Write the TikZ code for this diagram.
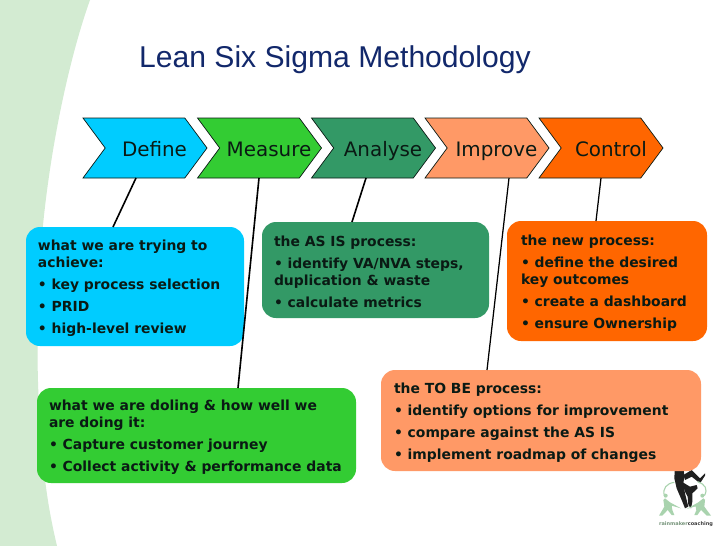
\documentclass[tikz,border=0pt]{standalone}
\usepackage{fontspec}
\setmainfont{DejaVu Sans}
\newfontfamily\titlefont{Liberation Sans}
\usetikzlibrary{shapes.symbols,calc}
\definecolor{bgband}{HTML}{D3EBD2}
\definecolor{cdefine}{HTML}{00CCFF}
\definecolor{cmeasure}{HTML}{33CC33}
\definecolor{canalyse}{HTML}{339966}
\definecolor{cimprove}{HTML}{FF9966}
\definecolor{ccontrol}{HTML}{FF6600}
\definecolor{titleblue}{HTML}{12286B}
\definecolor{inkdark}{HTML}{0A1A14}
\definecolor{logogreen}{HTML}{A9D3AE}
\tikzset{
  x=1pt,y=-1pt,
  chev/.style={signal,signal from=west,signal to=east,signal pointer angle=107,
    draw=inkdark,line width=0.7pt,minimum width=124pt,minimum height=60pt,inner sep=0pt,outer sep=0pt},
  chevlabel/.style={font=\fontsize{19.9}{22}\selectfont,text=inkdark,inner sep=0pt,anchor=base},
  infobox/.style={rounded corners=14pt,anchor=north west,inner sep=0pt,outer sep=0pt,
    font=\fontsize{13.9}{17}\selectfont\bfseries,text=inkdark,align=left},
  link/.style={draw=black,line width=1.6pt},
  slimlink/.style={draw=black,line width=1.25pt},
}
\newcommand{\boxbody}[2]{\parbox{#1}{\raggedright\vspace*{4pt}#2}}
\begin{document}
\begin{tikzpicture}
\useasboundingbox (0,0) rectangle (728,546);
\fill[white] (0,0) rectangle (728,546);
\fill[bgband] (0,0) -- (90,0) .. controls (72,50) and (52,135) .. (43,225)
  .. controls (36,300) and (35,390) .. (44,470) .. controls (47,500) and (52,525) .. (57,546) -- (0,546) -- cycle;

% logo
\begin{scope}[shift={(655,465)},x=0.3333pt,y=-0.3333pt]
\fill[black!88] (60,0) -- (85,0) -- (88,35) -- (85,55) -- (90,85) -- (100,125) -- (90,130) -- (80,105) -- (65,70) -- (58,40) -- cycle;
\fill[black!88] (80,50) -- (105,65) -- (125,60) -- (128,70) -- (112,85) -- (112,110) -- (108,130) -- (100,120) -- (98,95) -- (90,80) -- cycle;
\fill[black!88] (85,30) -- (110,15) -- (135,40) -- (150,25) -- (150,32) -- (135,55) -- (110,35) -- (90,45) -- cycle;
\fill[logogreen] (32,92) circle (6);
\fill[logogreen] (30,100) -- (45,112) -- (78,130) -- (50,122) -- (52,135) -- (58,150) -- (50,150) -- (38,135) -- (22,152) -- (12,152) -- (28,125) -- (25,105) -- cycle;
\fill[logogreen] (142,92) circle (6);
\fill[logogreen] (145,100) -- (130,112) -- (95,132) -- (122,124) -- (124,136) -- (118,150) -- (127,150) -- (138,135) -- (155,152) -- (168,152) -- (148,125) -- (150,105) -- cycle;
\draw[logogreen,line width=1.1pt] (28,92) .. controls (22,70) and (35,55) .. (58,52);
\draw[logogreen,line width=1.1pt] (148,92) .. controls (160,72) and (150,58) .. (128,50);
\end{scope}
\node[name=logotext,inner sep=0pt,font=\fontsize{5}{6}\selectfont\bfseries] at (686,524)
  {\textcolor{logogreen!70!black}{rainmaker}\textcolor{black!75}{coaching}};

\node[name=title,anchor=base west,inner sep=0pt,text=titleblue,font=\titlefont\fontsize{30.1}{34}\selectfont] at (139,67) {Lean Six Sigma Methodology};

\node[chev,fill=cdefine,name=define] at (145,148) {};
\node[chev,fill=cmeasure,name=measure] at (259.5,148) {};
\node[chev,fill=canalyse,name=analyse] at (373.5,148) {};
\node[chev,fill=cimprove,name=improve] at (487,148) {};
\node[chev,fill=ccontrol,name=control] at (601,148) {};
\node[chevlabel,name=ldefine] at (154.5,156) {Define};
\node[chevlabel,name=lmeasure] at (269,156) {Measure};
\node[chevlabel,name=lanalyse] at (383,156) {Analyse};
\node[chevlabel,name=limprove] at (496.5,156) {Improve};
\node[chevlabel,name=lcontrol] at (611,156) {Control};

\node[infobox,fill=cdefine,name=bdefine,minimum width=218pt,minimum height=119pt] at (26,227)
  {\hspace*{12pt}\boxbody{200pt}{what we are trying to\\achieve:\\[5pt]• key process selection\\[5pt]• PRID\\[5pt]• high-level review}\hspace*{6pt}};
\node[infobox,fill=canalyse,name=banalyse,minimum width=227pt,minimum height=96pt] at (262,222)
  {\hspace*{12pt}\boxbody{210pt}{the AS IS process:\\[5pt]• identify VA/NVA steps,\\duplication \& waste\\[5pt]• calculate metrics}\hspace*{5pt}};
\node[infobox,fill=ccontrol,name=bcontrol,minimum width=200pt,minimum height=120pt] at (507,221)
  {\hspace*{14pt}\boxbody{180pt}{the new process:\\[5pt]• define the desired\\key outcomes\\[5pt]• create a dashboard\\[5pt]• ensure Ownership}\hspace*{6pt}};
\node[infobox,fill=cimprove,name=bimprove,minimum width=320pt,minimum height=101pt] at (381,370)
  {\hspace*{13pt}\boxbody{300pt}{the TO BE process:\\[5pt]• identify options for improvement\\[5pt]• compare against the AS IS\\[5pt]• implement roadmap of changes}\hspace*{7pt}};
\node[infobox,fill=cmeasure,name=bmeasure,minimum width=319pt,minimum height=95pt] at (37,388)
  {\hspace*{12pt}\boxbody{300pt}{what we are doling \& how well we\\are doing it:\\[5pt]• Capture customer journey\\[5pt]• Collect activity \& performance data}\hspace*{7pt}};

\draw[link] ([xshift=-9pt]define.south) -- ([xshift=-22pt]bdefine.north);
\draw[link] ([xshift=-0.5pt]measure.south) -- ([xshift=41.5pt]bmeasure.north);
\draw[link] ([xshift=-7.5pt]analyse.south) -- ([xshift=-23.5pt]banalyse.north);
\draw[slimlink] ([xshift=22pt]improve.south) -- ([xshift=-54pt]bimprove.north);
\draw[slimlink] ([xshift=0pt]control.south) -- ([xshift=-11pt]bcontrol.north);
\end{tikzpicture}
\end{document}
